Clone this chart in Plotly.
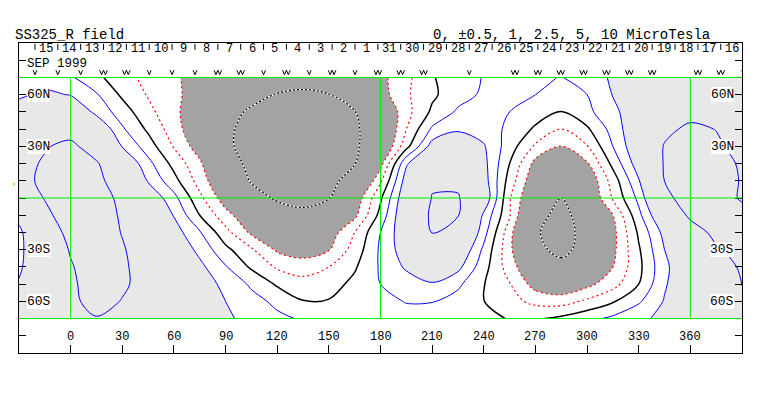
import plotly.graph_objects as go

# ---------------- data ----------------
lons = list(range(-30, 391, 15))          # Carrington longitude columns
lats = list(range(-70, 71, 10))           # latitude rows

row_s70 = [-1.60,-1.93,-2.26,-2.45,-2.08,-1.77,-1.47,-1.27,-1.08,-0.85,-0.60,-0.45,-0.36,-0.31,-0.32,-0.34,-0.30,-0.22,-0.15,0.03,0.06,-0.11,-0.35,-0.61,-0.89,-1.13,-1.36,-1.58,-1.80]
row_s60 = [-1.40,-1.85,-2.30,-2.82,-2.46,-2.10,-1.73,-1.37,-1.00,-0.67,-0.39,-0.02,-0.03,-0.26,-0.38,-0.52,-0.52,-0.30,-0.01,0.34,0.63,0.71,0.40,0.05,-0.43,-1.04,-1.36,-1.68,-2.00]
row_s50 = [-1.05,-1.70,-2.35,-2.90,-2.63,-2.18,-1.71,-1.29,-0.86,-0.42,0.07,0.32,0.20,-0.125,-0.50,-0.73,-0.95,-0.60,-0.02,0.47,1.22,1.46,1.15,0.69,0.00,-0.94,-1.50,-2.04,-2.55]
row_s40 = [-0.90,-1.63,-2.42,-3.02,-2.63,-2.12,-1.63,-1.13,-0.54,0.08,0.57,0.72,0.50,0.06,-0.56,-1.08,-1.45,-1.15,-0.19,0.75,1.60,2.13,1.56,1.00,0.13,-0.88,-1.52,-2.12,-2.60]
row_s30 = [-0.85,-1.65,-2.58,-3.20,-2.58,-2.01,-1.45,-0.86,-0.13,0.43,1.08,1.27,1.03,0.29,-0.58,-1.31,-1.98,-1.60,-0.39,0.86,2.20,2.82,2.06,1.13,0.06,-1.00,-1.70,-2.41,-2.80]
row_s20 = [-0.85,-1.91,-2.79,-3.02,-2.46,-1.85,-1.24,-0.55,0.33,1.10,1.58,1.75,1.30,0.50,-0.50,-1.44,-2.52,-2.14,-0.69,0.80,2.40,2.91,2.14,1.16,-0.08,-1.18,-2.08,-2.72,-2.95]
row_s10 = [-1.20,-2.28,-2.98,-3.01,-2.38,-1.68,-0.97,0.00,0.81,1.45,2.01,2.30,2.08,1.13,-0.17,-1.56,-2.66,-2.54,-0.90,0.45,2.15,2.81,2.02,1.00,-0.36,-1.66,-2.67,-3.10,-2.80]
row_eq  = [-1.90,-2.54,-3.10,-2.92,-2.28,-1.46,-0.66,0.375,1.28,2.11,2.62,2.75,2.52,1.39,0.08,-1.45,-2.53,-2.58,-1.45,0.45,1.70,2.50,1.63,0.44,-0.63,-2.26,-2.93,-2.97,-2.40]
row_n10 = [-2.30,-2.63,-3.20,-2.74,-2.00,-0.95,-0.17,0.70,1.63,2.58,3.03,3.30,2.82,2.03,0.60,-1.26,-2.40,-2.30,-1.25,0.21,1.45,2.30,1.49,0.27,-0.95,-2.51,-2.95,-2.83,-2.45]
row_n20 = [-2.20,-2.60,-3.10,-2.60,-1.60,-0.65,0.16,0.90,1.98,2.77,3.29,3.59,3.06,2.54,1.19,-0.93,-1.77,-1.87,-1.16,0.00,1.17,1.80,1.05,-0.14,-1.29,-2.57,-2.97,-2.80,-2.40]
row_n30 = [-1.90,-2.43,-2.72,-2.01,-0.97,-0.25,0.54,1.27,2.30,2.90,3.40,3.70,3.18,2.67,1.71,0.17,-1.23,-1.59,-1.05,-0.24,0.58,1.00,0.53,-0.50,-1.47,-2.56,-3.00,-2.64,-2.20]
row_n40 = [-1.60,-1.85,-2.10,-1.55,-0.57,0.09,0.75,1.49,2.31,2.83,3.26,3.52,3.09,2.67,1.81,0.50,-0.58,-0.90,-0.77,-0.39,0.08,0.50,0.08,-0.69,-1.50,-2.29,-2.68,-2.48,-2.10]
row_n50 = [-1.30,-1.45,-1.60,-0.85,-0.25,0.36,0.85,1.47,2.17,2.64,2.89,3.05,2.79,2.53,1.65,0.67,-0.09,-0.58,-0.90,-0.50,-0.24,0.02,-0.37,-0.88,-1.34,-1.77,-2.20,-2.10,-2.00]
row_n60 = [-0.90,-1.12,-0.97,-0.55,0.09,0.54,0.87,1.28,1.73,2.19,2.54,2.65,2.52,1.91,1.23,0.58,0.09,-0.30,-0.58,-0.65,-0.50,-0.30,-0.50,-1.02,-1.36,-1.69,-1.93,-1.92,-1.80]
row_n70 = [-0.85,-0.70,-0.56,-0.125,0.32,0.64,0.91,1.26,1.64,1.95,2.10,2.15,2.00,1.71,1.15,0.63,0.04,-0.28,-0.525,-0.62,-0.60,-0.48,-0.75,-1.07,-1.27,-1.45,-1.60,-1.55,-1.50]

field = [row_s70, row_s60, row_s50, row_s40, row_s30, row_s20, row_s10, row_eq,
         row_n10, row_n20, row_n30, row_n40, row_n50, row_n60, row_n70]

neg_levels = [-2.5, -1.0, -0.5]
pos_levels = [0.5, 1.0]
strong_level = 2.5

lon_ticks = list(range(0, 361, 30))
lat_ticks = list(range(-80, 81, 10))
lat_labels = {60: "60N", 30: "30N", -30: "30S", -60: "60S"}

day_labels = ["15","14","13","12","11","10","9","8","7","6","5","4","3","2","1",
              "31","30","29","28","27","26","25","24","23","22","21","20","19","18","17","16"]
first_day_lon = -14.1
deg_per_day = 13.28
obs_marks = ["v","v","v","w","w","v","v","v","w","w","v","w","v","w","v","w",
             "w","w","","v","","w","w","w","w","w","w","w","","w","w","v"]

# ---------------- figure ----------------
FONT = "Liberation Mono"
fig = go.Figure()

common = dict(x=lons, y=lats, z=field, showscale=False, hoverinfo="skip")

# plotly shades the side that violates the constraint
fig.add_trace(go.Contour(**common, contours=dict(type="constraint", operation=">", value=-1.0),
                         fillcolor="#e8e8e8", line=dict(width=0, smoothing=1)))
fig.add_trace(go.Contour(**common, contours=dict(type="constraint", operation="<", value=1.0),
                         fillcolor="#a3a3a3", line=dict(width=0, smoothing=1)))

def line_trace(level, color, width, dash="solid"):
    return go.Contour(**common, contours=dict(type="constraint", operation="=", value=level),
                      line=dict(color=color, width=width, dash=dash, smoothing=1))

for lv in neg_levels:
    fig.add_trace(line_trace(lv, "#0000ff", 1))
fig.add_trace(line_trace(0.0, "#000000", 1.5))
for lv in pos_levels:
    fig.add_trace(line_trace(lv, "#ff0000", 1.2, "2px,3px"))
fig.add_trace(line_trace(strong_level, "#ffffff", 1.2))
fig.add_trace(line_trace(strong_level, "#000000", 1.2, "2px,2px"))

GREEN = "#00ee00"
shapes = []
for yv in (-70, 0, 70):
    shapes.append(dict(type="line", xref="x", yref="y", x0=-30, x1=390, y0=yv, y1=yv,
                       line=dict(color=GREEN, width=1)))
for xv in (0, 180, 360):
    shapes.append(dict(type="line", xref="x", yref="y", x0=xv, x1=xv, y0=-70, y1=70,
                       line=dict(color=GREEN, width=1)))
# day separators in the top band
for k in range(len(day_labels) + 1):
    xs = first_day_lon + (k - 0.5) * deg_per_day
    if -30 < xs < 390:
        shapes.append(dict(type="line", xref="x", yref="y", x0=xs, x1=xs, y0=89.5, y1=86.0,
                           line=dict(color="black", width=1)))
# observation marks (v / w glyphs) drawn as small paths
a, b, y0m = 1.1, 2.6, 71.6
for k, m in enumerate(obs_marks):
    xs = first_day_lon + (k - 0.5) * deg_per_day
    if not m or not (-30 < xs < 391):
        continue
    if m == "v":
        p = f"M {xs-a},{y0m+b} L {xs},{y0m} L {xs+a},{y0m+b}"
    else:
        p = (f"M {xs-2*a},{y0m+b} L {xs-a},{y0m} L {xs},{y0m+b} "
             f"L {xs+a},{y0m} L {xs+2*a},{y0m+b}")
    shapes.append(dict(type="path", xref="x", yref="y", path=p,
                       line=dict(color="black", width=1)))

ann = []
nb = dict(borderpad=0, borderwidth=0, showarrow=False)
for i, d in enumerate(day_labels):
    ann.append(dict(x=first_day_lon + i * deg_per_day, y=86.4, xref="x", yref="y", text=d,
                    font=dict(family=FONT, size=12, color="black"), **nb))
ann.append(dict(x=-25.5, y=77.9, xref="x", yref="y", text="SEP 1999", xanchor="left",
                font=dict(family=FONT, size=12.5, color="black"), **nb))
ann.append(dict(x=390.3, y=77.9, xref="x", yref="y", text="AUG 1999", xanchor="right",
                font=dict(family=FONT, size=12.5, color="black"), **nb))
for lv, t in lat_labels.items():
    ann.append(dict(x=-25.2, y=lv, xref="x", yref="y", text=t, xanchor="left",
                    bgcolor="white", font=dict(family=FONT, size=13, color="black"), **nb))
    ann.append(dict(x=385.5, y=lv, xref="x", yref="y", text=t, xanchor="right",
                    bgcolor="white", font=dict(family=FONT, size=13, color="black"), **nb))
for v in lon_ticks:
    ann.append(dict(x=v, y=-80.5, xref="x", yref="y", text=str(v),
                    font=dict(family=FONT, size=12, color="black"), **nb))
ann.append(dict(x=180, y=-97.5, xref="x", yref="y", text="1953",
                font=dict(family=FONT, size=17, color="black"), **nb))
ann.append(dict(x=-0.005, y=1.052, xref="paper", yref="paper", text="SS325_R field",
                xanchor="left", font=dict(family=FONT, size=14, color="black"), **nb))
ann.append(dict(x=0.5726, y=1.052, xref="paper", yref="paper",
                text="0, \u00b10.5, 1, 2.5, 5, 10 MicroTesla",
                xanchor="left", font=dict(family=FONT, size=14, color="black"), **nb))
ann.append(dict(x=-0.004, y=7.5, xref="paper", yref="y", text="\u203a", xanchor="right",
                font=dict(family=FONT, size=9, color=GREEN), **nb))

# the page body has an 8px default margin, so the figure is sized to fit inside the window
fig.update_layout(
    width=755, height=388, autosize=False,
    margin=dict(l=11, r=21, t=35, b=43, pad=0),
    paper_bgcolor="white", plot_bgcolor="white",
    showlegend=False, shapes=shapes, annotations=ann,
    xaxis=dict(range=[-30, 390], showgrid=False, zeroline=False, showline=True, mirror=True,
               linecolor="black", linewidth=1, ticks="inside", ticklen=8, tickcolor="black",
               tickvals=lon_ticks, showticklabels=False, fixedrange=True),
    yaxis=dict(range=[-90, 90], showgrid=False, zeroline=False, showline=True, mirror="ticks",
               linecolor="black", linewidth=1, ticks="inside", ticklen=7, tickcolor="black",
               tickvals=lat_ticks, showticklabels=False, fixedrange=True),
)

fig.write_html("out.html")
